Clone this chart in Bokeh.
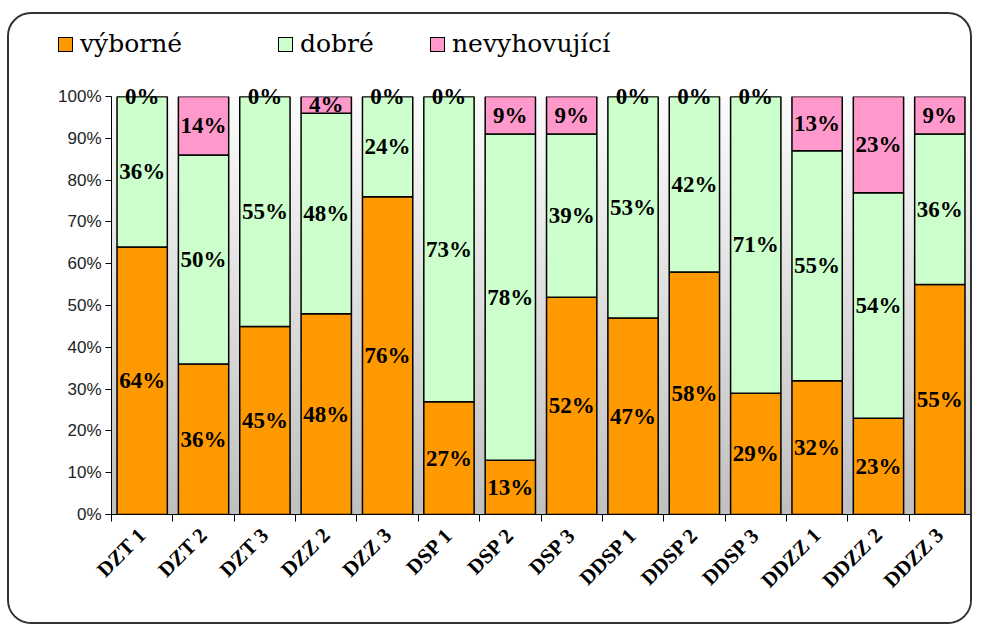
import numpy as np
from bokeh.plotting import figure
from bokeh.models import Range1d, FixedTicker, PrintfTickFormatter, Div, Column
from bokeh.core.properties import value
from bokeh.embed import file_html
from bokeh.resources import INLINE
import math

categories = ["DZT 1", "DZT 2", "DZT 3", "DZZ 2", "DZZ 3", "DSP 1", "DSP 2",
              "DSP 3", "DDSP 1", "DDSP 2", "DDSP 3", "DDZZ 1", "DDZZ 2", "DDZZ 3"]
vyborne = [64, 36, 45, 48, 76, 27, 13, 52, 47, 58, 29, 32, 23, 55]
dobre = [36, 50, 55, 48, 24, 73, 78, 39, 53, 42, 71, 55, 54, 36]
nevyhovujici = [0, 14, 0, 4, 0, 0, 9, 9, 0, 0, 0, 13, 23, 9]
series_names = ["výborné", "dobré", "nevyhovující"]
series_colors = ["#FF9900", "#CCFFCC", "#FF99CC"]
y_tick_values = [0, 10, 20, 30, 40, 50, 60, 70, 80, 90, 100]

n = len(categories)
centers = [i + 0.5 for i in range(n)]
boundaries = list(range(n + 1))

W = 961
p = figure(width=W, height=540, output_backend="svg", toolbar_location=None,
           x_range=Range1d(0, n), y_range=Range1d(0, 100),
           min_border_left=102, min_border_right=0, min_border_top=14,
           min_border_bottom=108)
p.outline_line_color = None
p.background_fill_color = "white"
p.border_fill_color = "white"

# gradient background of the plot area
grad = np.linspace(192, 252, 256).astype(np.uint32)
img = np.zeros((256, 1), dtype=np.uint32)
view = img.view(dtype=np.uint8).reshape((256, 1, 4))
view[:, 0, 0] = grad
view[:, 0, 1] = grad
view[:, 0, 2] = grad
view[:, 0, 3] = 255
p.image_rgba(image=[img], x=0, y=0, dw=n, dh=100, level="underlay")

# grid
p.xgrid.visible = False
p.ygrid.ticker = FixedTicker(ticks=y_tick_values)
p.ygrid.grid_line_color = "black"
p.ygrid.grid_line_width = 1
p.ygrid.level = "image"

# stacked bars
series = [vyborne, dobre, nevyhovujici]
bottoms = [0] * n
label_x, label_y, label_t = [], [], []
for vals, col in zip(series, series_colors):
    tops = [b + v for b, v in zip(bottoms, vals)]
    p.vbar(x=centers, width=0.82, bottom=bottoms, top=tops,
           fill_color=col, line_color="black", line_width=1.5)
    for c, b, t, v in zip(centers, bottoms, tops, vals):
        label_x.append(c)
        label_y.append((b + t) / 2)
        label_t.append(f"{v}%")
    bottoms = tops

p.text(x=label_x, y=label_y, text=label_t, text_align="center",
       text_baseline="middle", text_font=value("Liberation Serif"),
       text_font_style="bold", text_font_size="23px", text_color="black",
       level="overlay")

# axes
p.yaxis.ticker = FixedTicker(ticks=y_tick_values)
p.yaxis.formatter = PrintfTickFormatter(format="%d%%")
p.yaxis.major_label_text_font = "Liberation Sans"
p.yaxis.major_label_text_font_size = "17px"
p.yaxis.major_label_text_color = "#222222"
p.yaxis.axis_line_color = "black"
p.yaxis.major_tick_line_color = "black"
p.yaxis.major_tick_out = 6
p.yaxis.major_tick_in = 0
p.yaxis.minor_tick_line_color = None
p.yaxis.major_label_standoff = 4

p.xaxis.ticker = FixedTicker(ticks=centers, minor_ticks=boundaries)
p.xaxis.major_label_overrides = {c: name for c, name in zip(centers, categories)}
p.xaxis.major_tick_line_color = None
p.xaxis.minor_tick_line_color = "black"
p.xaxis.minor_tick_out = 7
p.xaxis.minor_tick_in = 0
p.xaxis.axis_line_color = "black"
p.xaxis.major_label_orientation = math.pi / 4
p.xaxis.major_label_text_font = "Liberation Serif"
p.xaxis.major_label_text_font_style = "bold"
p.xaxis.major_label_text_font_size = "21px"
p.xaxis.major_label_text_color = "black"
p.xaxis.major_label_standoff = 10

# legend row (HTML) above the chart
legend_left_px = [49, 269, 421]
font_css = ("font-family:&quot;DejaVu Serif&quot;,&quot;Liberation Serif&quot;,serif;"
            "font-size:25px;color:black;")
parts = []
for name, col, lx in zip(series_names, series_colors, legend_left_px):
    parts.append(
        f'<span style="position:absolute;left:{lx}px;top:23px;width:15px;height:15px;'
        f'background:{col};border:1.5px solid black;box-sizing:border-box;"></span>'
        f'<span style="position:absolute;left:{lx + 22}px;top:15px;line-height:30px;'
        f'white-space:nowrap;{font_css}">{name}</span>')
legend_html = (f'<div style="position:relative;width:{W}px;height:68px;{font_css}">'
               + "".join(parts) + "</div>")
legend_div = Div(text=legend_html, width=W, height=68,
                 styles={"margin": "0", "padding": "0",
                         "font-family": "DejaVu Serif", "font-size": "25px"})

layout = Column(children=[legend_div, p], spacing=0,
                styles={"border": "2px solid #333333", "border-radius": "24px",
                        "margin-left": "7px", "margin-top": "12px",
                        "background-color": "white", "overflow": "hidden"})

open("out.html", "w").write(file_html(layout, INLINE))
